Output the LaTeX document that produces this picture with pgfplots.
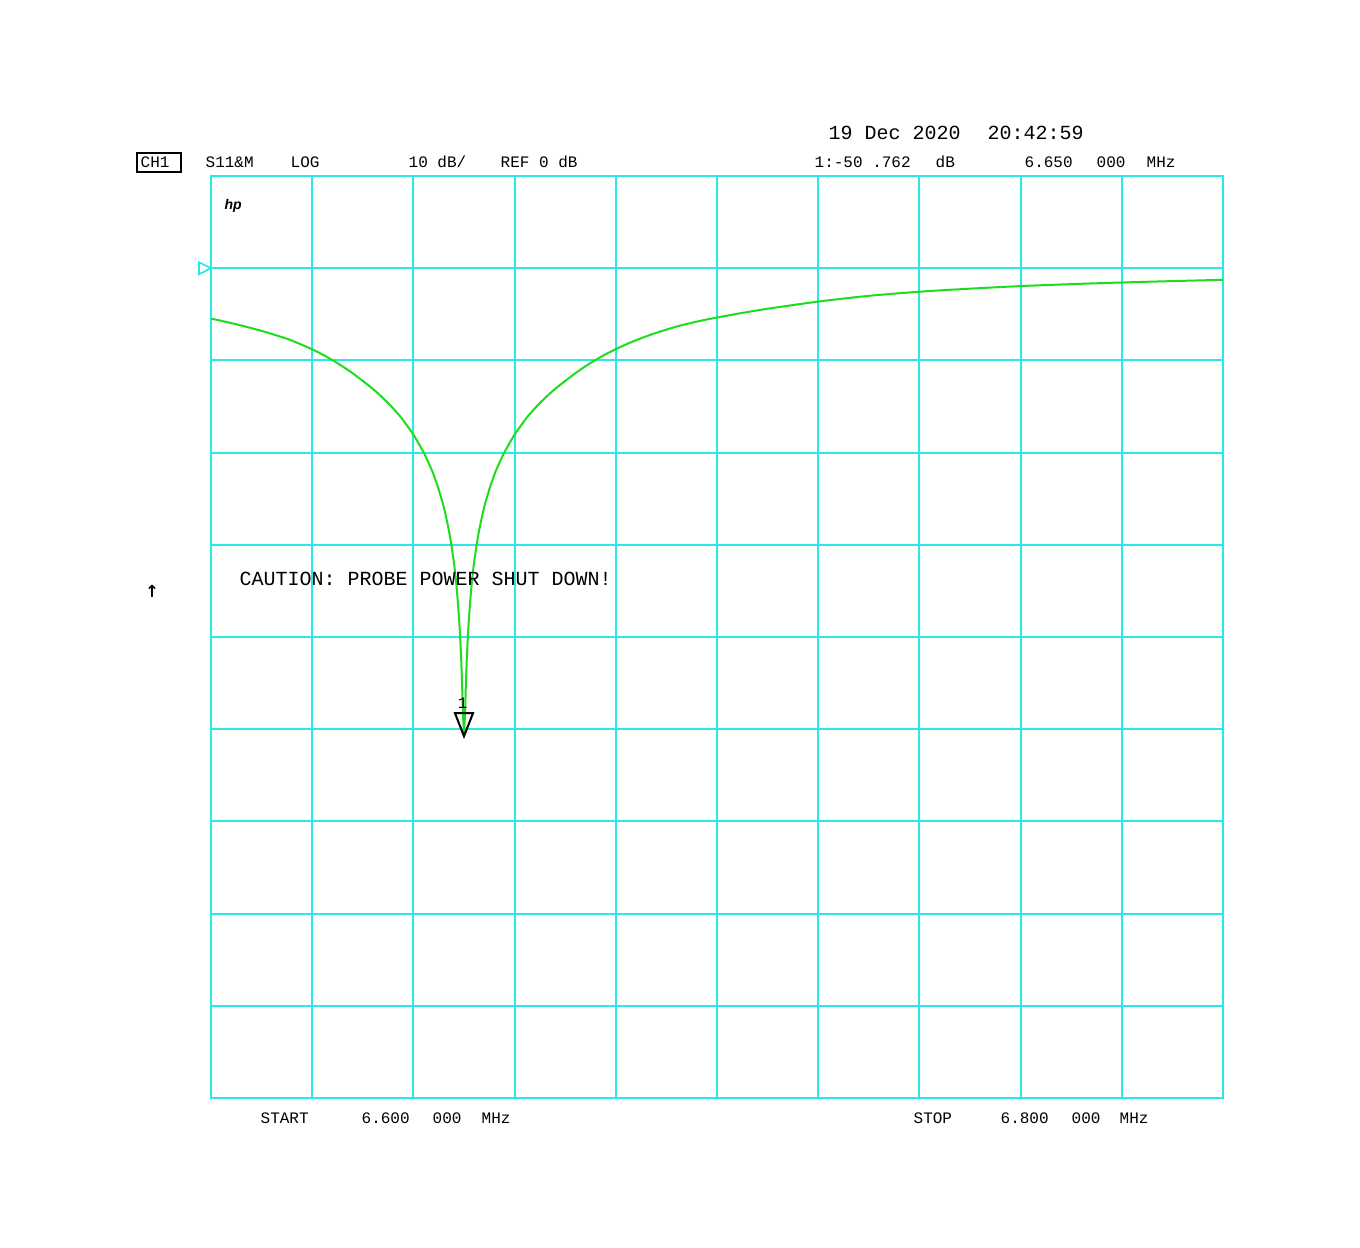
\documentclass[border=0pt]{standalone}
\usepackage{pgfplots}
\pgfplotsset{compat=1.18}
\usepackage{pgfplotstable}
\usepackage{fontspec}
\setmainfont{Liberation Mono}
\newfontfamily\hpfont{Liberation Sans}
\newfontfamily\symfont{DejaVu Sans}

\definecolor{gridcyan}{RGB}{40,232,232}
\definecolor{trace}{RGB}{30,220,30}

% marker 1: tip at the data point
\pgfdeclareplotmark{mkdown}{%
  \pgfpathmoveto{\pgfpointorigin}
  \pgfpathlineto{\pgfpoint{-2.7pt}{6.9pt}}
  \pgfpathlineto{\pgfpoint{2.7pt}{6.9pt}}
  \pgfpathclose\pgfusepathqstroke}
% reference level marker, pointing right
\pgfdeclareplotmark{mkref}{%
  \pgfpathmoveto{\pgfpointorigin}
  \pgfpathlineto{\pgfpoint{-3.6pt}{1.8pt}}
  \pgfpathlineto{\pgfpoint{-3.6pt}{-1.8pt}}
  \pgfpathclose\pgfusepathqstroke}

% S11 magnitude, MHz / dB -- below resonance
\pgfplotstableread{
f dB
6.6000 -5.46
6.6050 -6.08
6.6100 -6.80
6.6150 -7.65
6.6175 -8.20
6.6200 -8.80
6.6225 -9.50
6.6250 -10.30
6.6275 -11.20
6.6300 -12.23
6.6325 -13.33
6.6350 -14.62
6.6375 -16.15
6.6400 -18.05
6.6420 -19.96
6.6430 -21.10
6.6440 -22.40
6.6450 -24.00
6.6460 -25.90
6.6465 -27.10
6.6470 -28.40
6.6475 -30.00
6.6480 -31.90
6.6484 -33.80
6.6487 -35.60
6.6490 -37.80
6.6492 -39.60
6.6494 -41.80
6.6496 -44.70
6.6498 -48.30
6.6500 -50.76
}\sbelow

% above resonance
\pgfplotstableread{
f dB
6.6500 -50.76
6.6502 -48.30
6.6504 -44.70
6.6506 -41.80
6.6508 -39.60
6.6510 -37.80
6.6513 -35.60
6.6516 -33.80
6.6520 -31.90
6.6525 -30.00
6.6530 -28.40
6.6535 -27.10
6.6540 -25.90
6.6550 -24.00
6.6560 -22.40
6.6570 -21.10
6.6580 -19.96
6.6600 -18.05
6.6625 -16.15
6.6650 -14.62
6.6675 -13.33
6.6700 -12.23
6.6725 -11.20
6.6750 -10.28
6.6775 -9.48
6.6800 -8.78
6.6825 -8.15
6.6850 -7.60
6.6875 -7.10
6.6900 -6.66
6.6925 -6.26
6.6950 -5.92
6.6975 -5.62
6.7000 -5.35
6.7050 -4.85
6.7100 -4.40
6.7200 -3.62
6.7300 -3.00
6.7400 -2.55
6.7500 -2.22
6.7600 -1.94
6.7700 -1.73
6.7800 -1.55
6.7900 -1.40
6.8000 -1.26
}\sabove

\begin{document}
\begin{tikzpicture}
\path[use as bounding box, fill=white] (0,0) rectangle (408pt,374.4pt);
\begin{axis}[
  at={(63.3pt,45pt)}, anchor=south west,
  scale only axis, width=303.6pt, height=276.6pt,
  xmin=6.6, xmax=6.8, ymin=-90, ymax=10,
  xtick={6.62,6.64,6.66,6.68,6.70,6.72,6.74,6.76,6.78},
  ytick={-80,-70,-60,-50,-40,-30,-20,-10,0},
  xticklabels={}, yticklabels={},
  major tick length=0pt,
  grid=major,
  grid style={gridcyan, line width=0.6pt},
  axis line style={gridcyan, line width=0.6pt},
  clip=false,
]
\addplot[trace, line width=0.6pt, mark=none, smooth, tension=0.4] table[x=f, y=dB] {\sbelow};
\addplot[trace, line width=0.6pt, mark=none, smooth, tension=0.4] table[x=f, y=dB] {\sabove};
\addplot[only marks, mark=mkref, gridcyan, line width=0.5pt] coordinates {(6.6,0)};
\addplot[only marks, mark=mkdown, black, line width=0.6pt] coordinates {(6.65,-50.762)}
  node[anchor=base, yshift=8.4pt, xshift=-0.4pt, inner sep=0pt, font=\fontsize{4.8}{5}\selectfont] {1};
\end{axis}

\begin{scope}[x=0.3pt, y=-0.3pt, yshift=374.4pt,
  every node/.style={anchor=base west, inner sep=0pt}]
  % header
  \node[font=\fontsize{6}{7}\selectfont] at (828,140) {19 Dec 2020};
  \node[font=\fontsize{6}{7}\selectfont] at (987,140) {20:42:59};
  \draw[line width=0.6pt] (137,153) rectangle (181,172);
  \begin{scope}[every node/.append style={font=\fontsize{4.8}{5}\selectfont}]
    \node at (140,168) {CH1};
    \node at (205,168) {S11\&M};
    \node at (290,168) {LOG};
    \node at (408,168) {10 dB/};
    \node at (500,168) {REF 0 dB};
    \node at (814,168) {1:-50 .762};
    \node at (935,168) {dB};
    \node at (1024,168) {6.650};
    \node at (1096,168) {000};
    \node at (1146,168) {MHz};
    % footer
    \node at (260,1124) {START};
    \node at (361,1124) {6.600};
    \node at (432,1124) {000};
    \node at (481,1124) {MHz};
    \node at (913,1124) {STOP};
    \node at (1000,1124) {6.800};
    \node at (1071,1124) {000};
    \node at (1119,1124) {MHz};
  \end{scope}
  \node[font=\hpfont\bfseries\itshape\fontsize{4.2}{5}\selectfont] at (224,210) {hp};
  \node[font=\fontsize{6}{7}\selectfont] at (239,586) {CAUTION: PROBE POWER SHUT DOWN!};
  \node[anchor=center, font=\symfont\bfseries\fontsize{5}{6}\selectfont] at (152,591) {↑};
\end{scope}
\end{tikzpicture}
\end{document}
